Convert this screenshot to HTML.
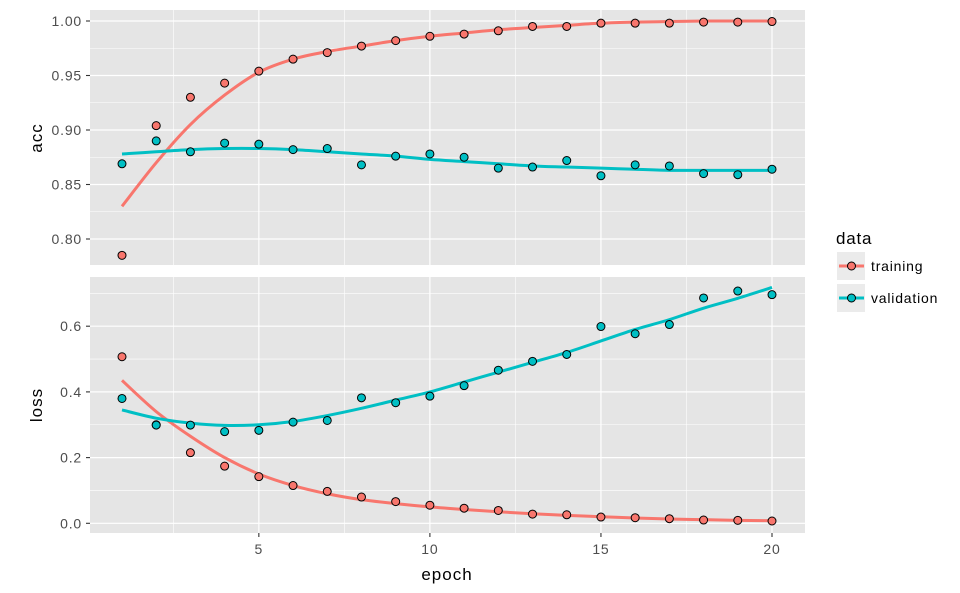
<!DOCTYPE html>
<html><head><meta charset="utf-8"><style>
html,body{margin:0;padding:0;background:#fff;}
svg{display:block;font-family:"Liberation Sans",sans-serif;}
</style></head><body>
<svg id="s" width="960" height="593" xmlns="http://www.w3.org/2000/svg"></svg>
<script>
const s=document.getElementById('s');let h='';
const L=90,R=805,T1=10,B1=265,T2=277,B2=533;
const X=e=>122+(e-1)*(772-122)/19;
const Y1=v=>21+(1-v)*1090;
const Y2=v=>523.3-v*328.5;
h+=`<rect x="${L}" y="${T1}" width="${R-L}" height="${B1-T1}" fill="#e5e5e5"/>`;
h+=`<rect x="${L}" y="${T2}" width="${R-L}" height="${B2-T2}" fill="#e5e5e5"/>`;
function vl(e,w){h+=`<line x1="${X(e)}" x2="${X(e)}" y1="${T1}" y2="${B1}" stroke="#fff" stroke-width="${w}"/><line x1="${X(e)}" x2="${X(e)}" y1="${T2}" y2="${B2}" stroke="#fff" stroke-width="${w}"/>`;}
[2.5,7.5,12.5,17.5].forEach(e=>vl(e,0.6));[5,10,15,20].forEach(e=>vl(e,1.2));
function hl(y,w){h+=`<line x1="${L}" x2="${R}" y1="${y}" y2="${y}" stroke="#fff" stroke-width="${w}"/>`;}
const TS='font-size="14" letter-spacing="0.8" fill="#4d4d4d"';
[0.825,0.875,0.925,0.975].forEach(v=>hl(Y1(v),0.6));
[0.8,0.85,0.9,0.95,1.0].forEach(v=>{hl(Y1(v),1.2);h+=`<line x1="${L-4}" x2="${L}" y1="${Y1(v)}" y2="${Y1(v)}" stroke="#333" stroke-width="1.1"/><text x="${L-8}" y="${Y1(v)+5}" ${TS} text-anchor="end">${v.toFixed(2)}</text>`;});
[0.1,0.3,0.5,0.7].forEach(v=>hl(Y2(v),0.6));
[0,0.2,0.4,0.6].forEach(v=>{hl(Y2(v),1.2);h+=`<line x1="${L-4}" x2="${L}" y1="${Y2(v)}" y2="${Y2(v)}" stroke="#333" stroke-width="1.1"/><text x="${L-8}" y="${Y2(v)+5}" ${TS} text-anchor="end">${v.toFixed(1)}</text>`;});
[5,10,15,20].forEach(e=>{h+=`<line x1="${X(e)}" x2="${X(e)}" y1="${B2}" y2="${B2+4}" stroke="#333" stroke-width="1.1"/><text x="${X(e)}" y="${B2+21}" ${TS} text-anchor="middle">${e}</text>`;});
const RED='#f8766d',CY='#00bfc4';
function smooth(pts,Y,c){const n=pts.length;
 const P=pts.map((v,i)=>[X(i+1),Y(v)]);
 let d='M'+P[0][0]+' '+P[0][1];
 for(let i=0;i<n-1;i++){const p0=P[Math.max(0,i-1)],p1=P[i],p2=P[i+1],p3=P[Math.min(n-1,i+2)];
  d+=` C${p1[0]+(p2[0]-p0[0])/6} ${p1[1]+(p2[1]-p0[1])/6} ${p2[0]-(p3[0]-p1[0])/6} ${p2[1]-(p3[1]-p1[1])/6} ${p2[0]} ${p2[1]}`;}
 h+=`<path d="${d}" fill="none" stroke="${c}" stroke-width="3"/>`;}
function pts(a,Y,c){a.forEach((v,i)=>{h+=`<circle cx="${X(i+1)}" cy="${Y(v)}" r="4" fill="${c}" stroke="#000" stroke-width="1"/>`;});}
const ta=[0.785,0.904,0.930,0.943,0.954,0.965,0.971,0.977,0.982,0.986,0.988,0.991,0.995,0.995,0.998,0.998,0.998,0.999,0.999,0.9995];
const va=[0.869,0.890,0.880,0.888,0.887,0.882,0.883,0.868,0.876,0.878,0.875,0.865,0.866,0.872,0.858,0.868,0.867,0.860,0.859,0.864];
const tl=[0.507,0.300,0.215,0.174,0.142,0.115,0.097,0.080,0.066,0.055,0.046,0.039,0.028,0.026,0.019,0.017,0.014,0.010,0.009,0.007];
const vls=[0.380,0.299,0.299,0.279,0.283,0.308,0.313,0.382,0.367,0.387,0.419,0.466,0.493,0.514,0.599,0.577,0.605,0.686,0.707,0.696];
const sta=[0.830,0.870,0.905,0.932,0.953,0.965,0.972,0.977,0.982,0.986,0.989,0.992,0.994,0.996,0.998,0.999,0.9995,1.0,1.0,1.0];
const sva=[0.878,0.880,0.882,0.883,0.883,0.882,0.880,0.878,0.876,0.873,0.871,0.869,0.867,0.866,0.865,0.864,0.863,0.863,0.863,0.863];
const stl=[0.435,0.34,0.265,0.20,0.15,0.115,0.09,0.072,0.06,0.05,0.042,0.035,0.029,0.024,0.02,0.016,0.013,0.011,0.009,0.008];
const svl=[0.345,0.32,0.305,0.298,0.300,0.31,0.328,0.35,0.375,0.40,0.43,0.46,0.49,0.52,0.555,0.59,0.62,0.655,0.685,0.718];
smooth(sta,Y1,RED);smooth(sva,Y1,CY);pts(ta,Y1,RED);pts(va,Y1,CY);
smooth(stl,Y2,RED);smooth(svl,Y2,CY);pts(tl,Y2,RED);pts(vls,Y2,CY);
const AS='font-size="17" letter-spacing="1" text-anchor="middle" fill="#000"';
h+=`<text transform="translate(42,138) rotate(-90)" ${AS}>acc</text>`;
h+=`<text transform="translate(42,405) rotate(-90)" ${AS}>loss</text>`;
h+=`<text x="447" y="580" ${AS}>epoch</text>`;
h+=`<text x="836" y="244" font-size="17" letter-spacing="0.8" fill="#000">data</text>`;
[[RED,'training',252],[CY,'validation',284]].forEach(([c,t,y])=>{
 h+=`<rect x="837" y="${y}" width="28" height="28" fill="#ebebeb"/><line x1="839" x2="864" y1="${y+14}" y2="${y+14}" stroke="${c}" stroke-width="3"/><circle cx="851.5" cy="${y+14}" r="4" fill="${c}" stroke="#000"/><text x="871" y="${y+19}" font-size="14" letter-spacing="0.8" fill="#000">${t}</text>`;});
s.innerHTML=h;
</script>
</body></html>
